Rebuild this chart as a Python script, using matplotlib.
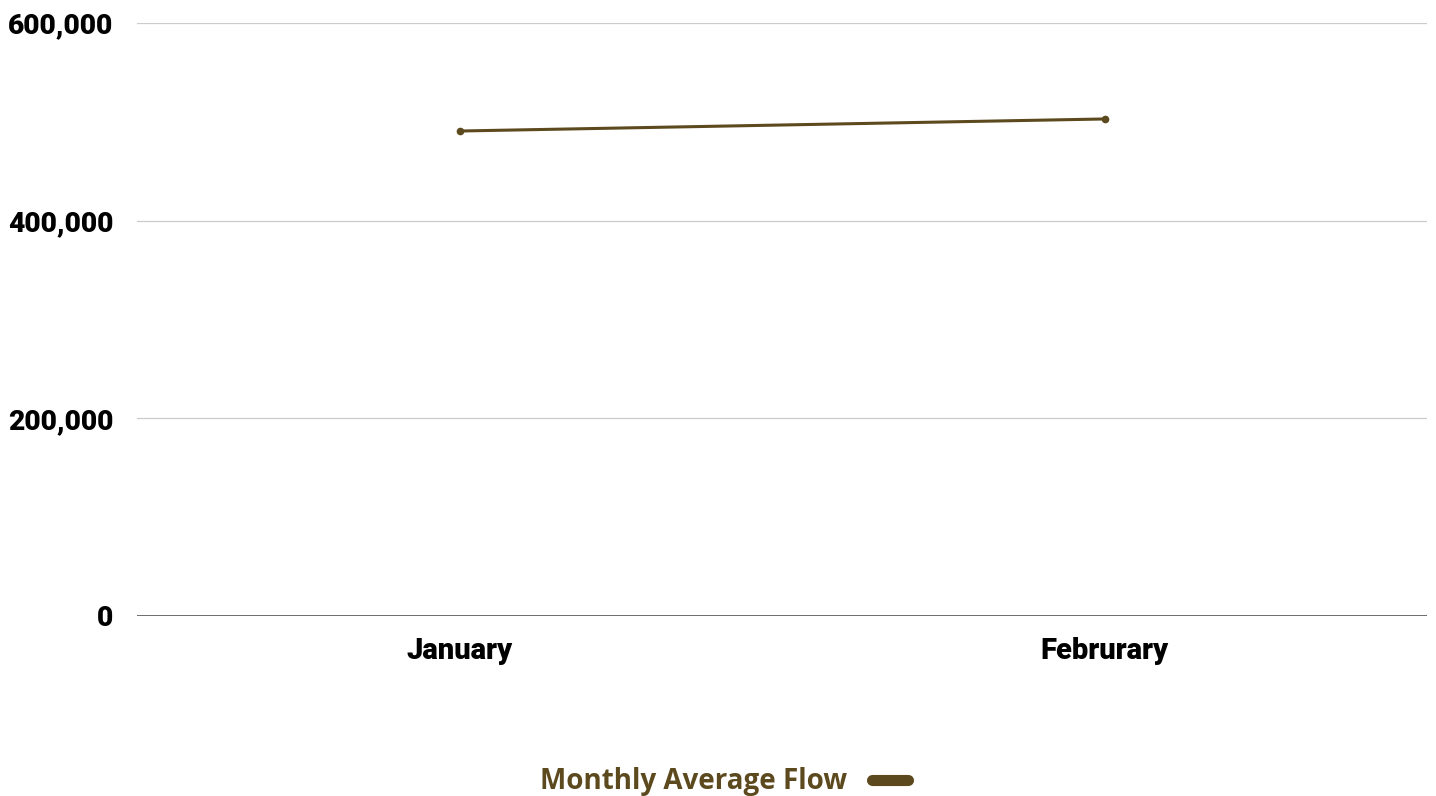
import matplotlib.pyplot as plt
from matplotlib.lines import Line2D
from matplotlib.ticker import FuncFormatter

# Monthly average flow data
months = ["January", "Februrary"]
flow = [490700, 502900]
y_ticks = [0, 200000, 400000, 600000]

line_color = "#5c4a1e"

fig = plt.figure(figsize=(14.36, 7.96), dpi=100)
ax = fig.add_axes([137 / 1436, 1 - 616 / 796, 1290 / 1436, 593 / 796])

x = list(range(len(months)))
ax.plot(x, flow, color=line_color, linewidth=2.2, marker="o", markersize=4.5,
        solid_capstyle="round", zorder=3)

ax.set_xlim(-0.5, len(months) - 0.5)
ax.set_ylim(0, 600000)
ax.set_yticks(y_ticks)
ax.yaxis.set_major_formatter(FuncFormatter(lambda v, p: f"{int(v):,}"))
ax.set_xticks(x)
ax.set_xticklabels(months)

for lbl in ax.get_xticklabels() + ax.get_yticklabels():
    lbl.set_fontfamily("Roboto")
    lbl.set_fontweight("black")
    lbl.set_fontsize(21)
    lbl.set_color("black")
for lbl in ax.get_yticklabels():
    lbl.set_fontsize(20.3)

ax.tick_params(axis="both", length=0)
ax.tick_params(axis="y", pad=17)
ax.tick_params(axis="x", pad=15)

ax.grid(axis="y", color="#cccccc", linewidth=0.9)
ax.set_axisbelow(True)
for s in ["top", "right", "left", "bottom"]:
    ax.spines[s].set_visible(False)
ax.axhline(0, color="#555555", linewidth=1.2, zorder=2)

handle = Line2D([0], [0], color=line_color, linewidth=8, solid_capstyle="round")
leg = fig.legend([handle], ["Monthly Average Flow"], loc="center",
                 bbox_to_anchor=(724 / 1436, 1 - 782 / 796), frameon=False,
                 markerfirst=False, handlelength=1.3, handletextpad=0.9,
                 prop={"family": "Open Sans", "weight": "bold", "size": 20})
for t in leg.get_texts():
    t.set_color(line_color)

fig.savefig("out.png", dpi=100)
